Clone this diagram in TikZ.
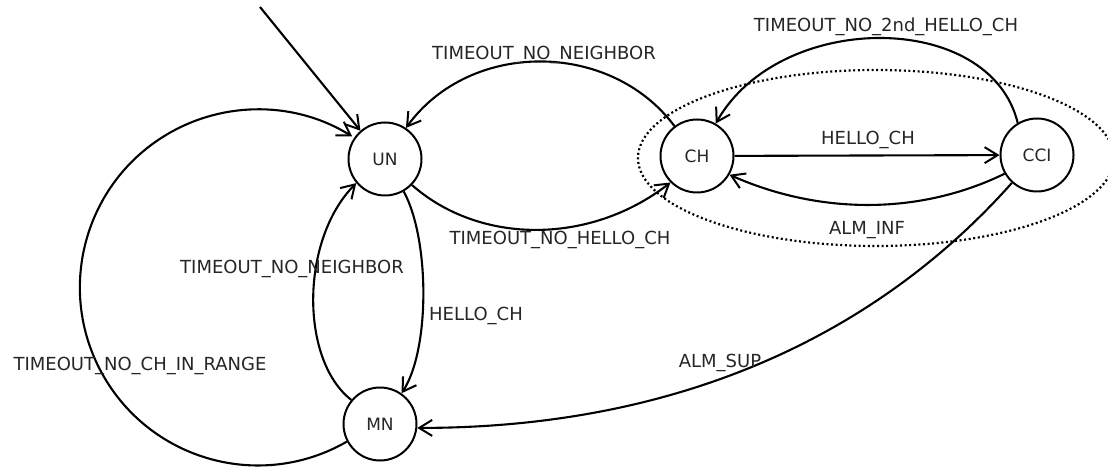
\documentclass[tikz,border=0pt]{standalone}
\usepackage{fontspec}
\setmainfont{DejaVu Sans}
\usetikzlibrary{arrows.meta}
\begin{document}
\begin{tikzpicture}[x=1pt,y=-1pt,
  state/.style={circle,draw,line width=2pt,minimum size=73pt,inner sep=0pt,font=\fontsize{17}{20}\selectfont,text=black!85},
  edge/.style={line width=2.1pt,-{Straight Barb[length=13pt,width=16pt,line width=2pt]}},
  lbl/.style={font=\fontsize{18}{21}\selectfont,text=black!85,inner sep=0pt,anchor=base},
  region/.style={line width=2.2pt,dash pattern=on 2pt off 2.6pt}
  ]
\useasboundingbox (0,0) rectangle (1108,470);
\clip (0,0) rectangle (1108,470);
\fill[white] (0,0) rectangle (1108,470);
\draw[region] (876,158) ellipse[x radius=238, y radius=88];
\node[state] (UN) at (385,159) {UN};
\node[state] (CH) at (697,156) {CH};
\node[state] (CCI) at (1037,155) {CCI};
\node[state] (MN) at (380,424) {MN};
\coordinate (init) at (260,7);
\draw[edge] (init) -- (UN.131);
\draw[edge] (MN.208) arc[start angle=60,end angle=302,radius=178];
\draw[edge] (CH.127) .. controls (610,40) and (470,40) .. (UN.56);
\draw[edge] (UN.-44) .. controls (480,245) and (590,245) .. (CH.225);
\draw[edge] (CH) -- (CCI);
\draw[edge] (CCI.121) .. controls (990,10) and (780,10) .. (CH.60);
\draw[edge] (CCI.210) .. controls (920,215) and (820,215) .. (CH.-30);
\draw[edge] (CCI.228) .. controls (890,320) and (700,428) .. (MN.-6);
\draw[edge] (UN.-60) .. controls (430,240) and (430,350) .. (MN.55);
\draw[edge] (MN.140) .. controls (300,360) and (300,240) .. (UN.220);
\node[lbl] (l1) at (544,60) {TIMEOUT\_NO\_NEIGHBOR};
\node[lbl] (l2) at (560,245) {TIMEOUT\_NO\_HELLO\_CH};
\node[lbl] (l3) at (886,32) {TIMEOUT\_NO\_2nd\_HELLO\_CH};
\node[lbl] (l4) at (868,145) {HELLO\_CH};
\node[lbl] (l5) at (867,235) {ALM\_INF};
\node[lbl] (l6) at (720,367) {ALM\_SUP};
\node[lbl] (l7) at (476,320) {HELLO\_CH};
\node[lbl] (l8) at (292,273) {TIMEOUT\_NO\_NEIGHBOR};
\node[lbl] (l9) at (140,370) {TIMEOUT\_NO\_CH\_IN\_RANGE};
\end{tikzpicture}
\end{document}
